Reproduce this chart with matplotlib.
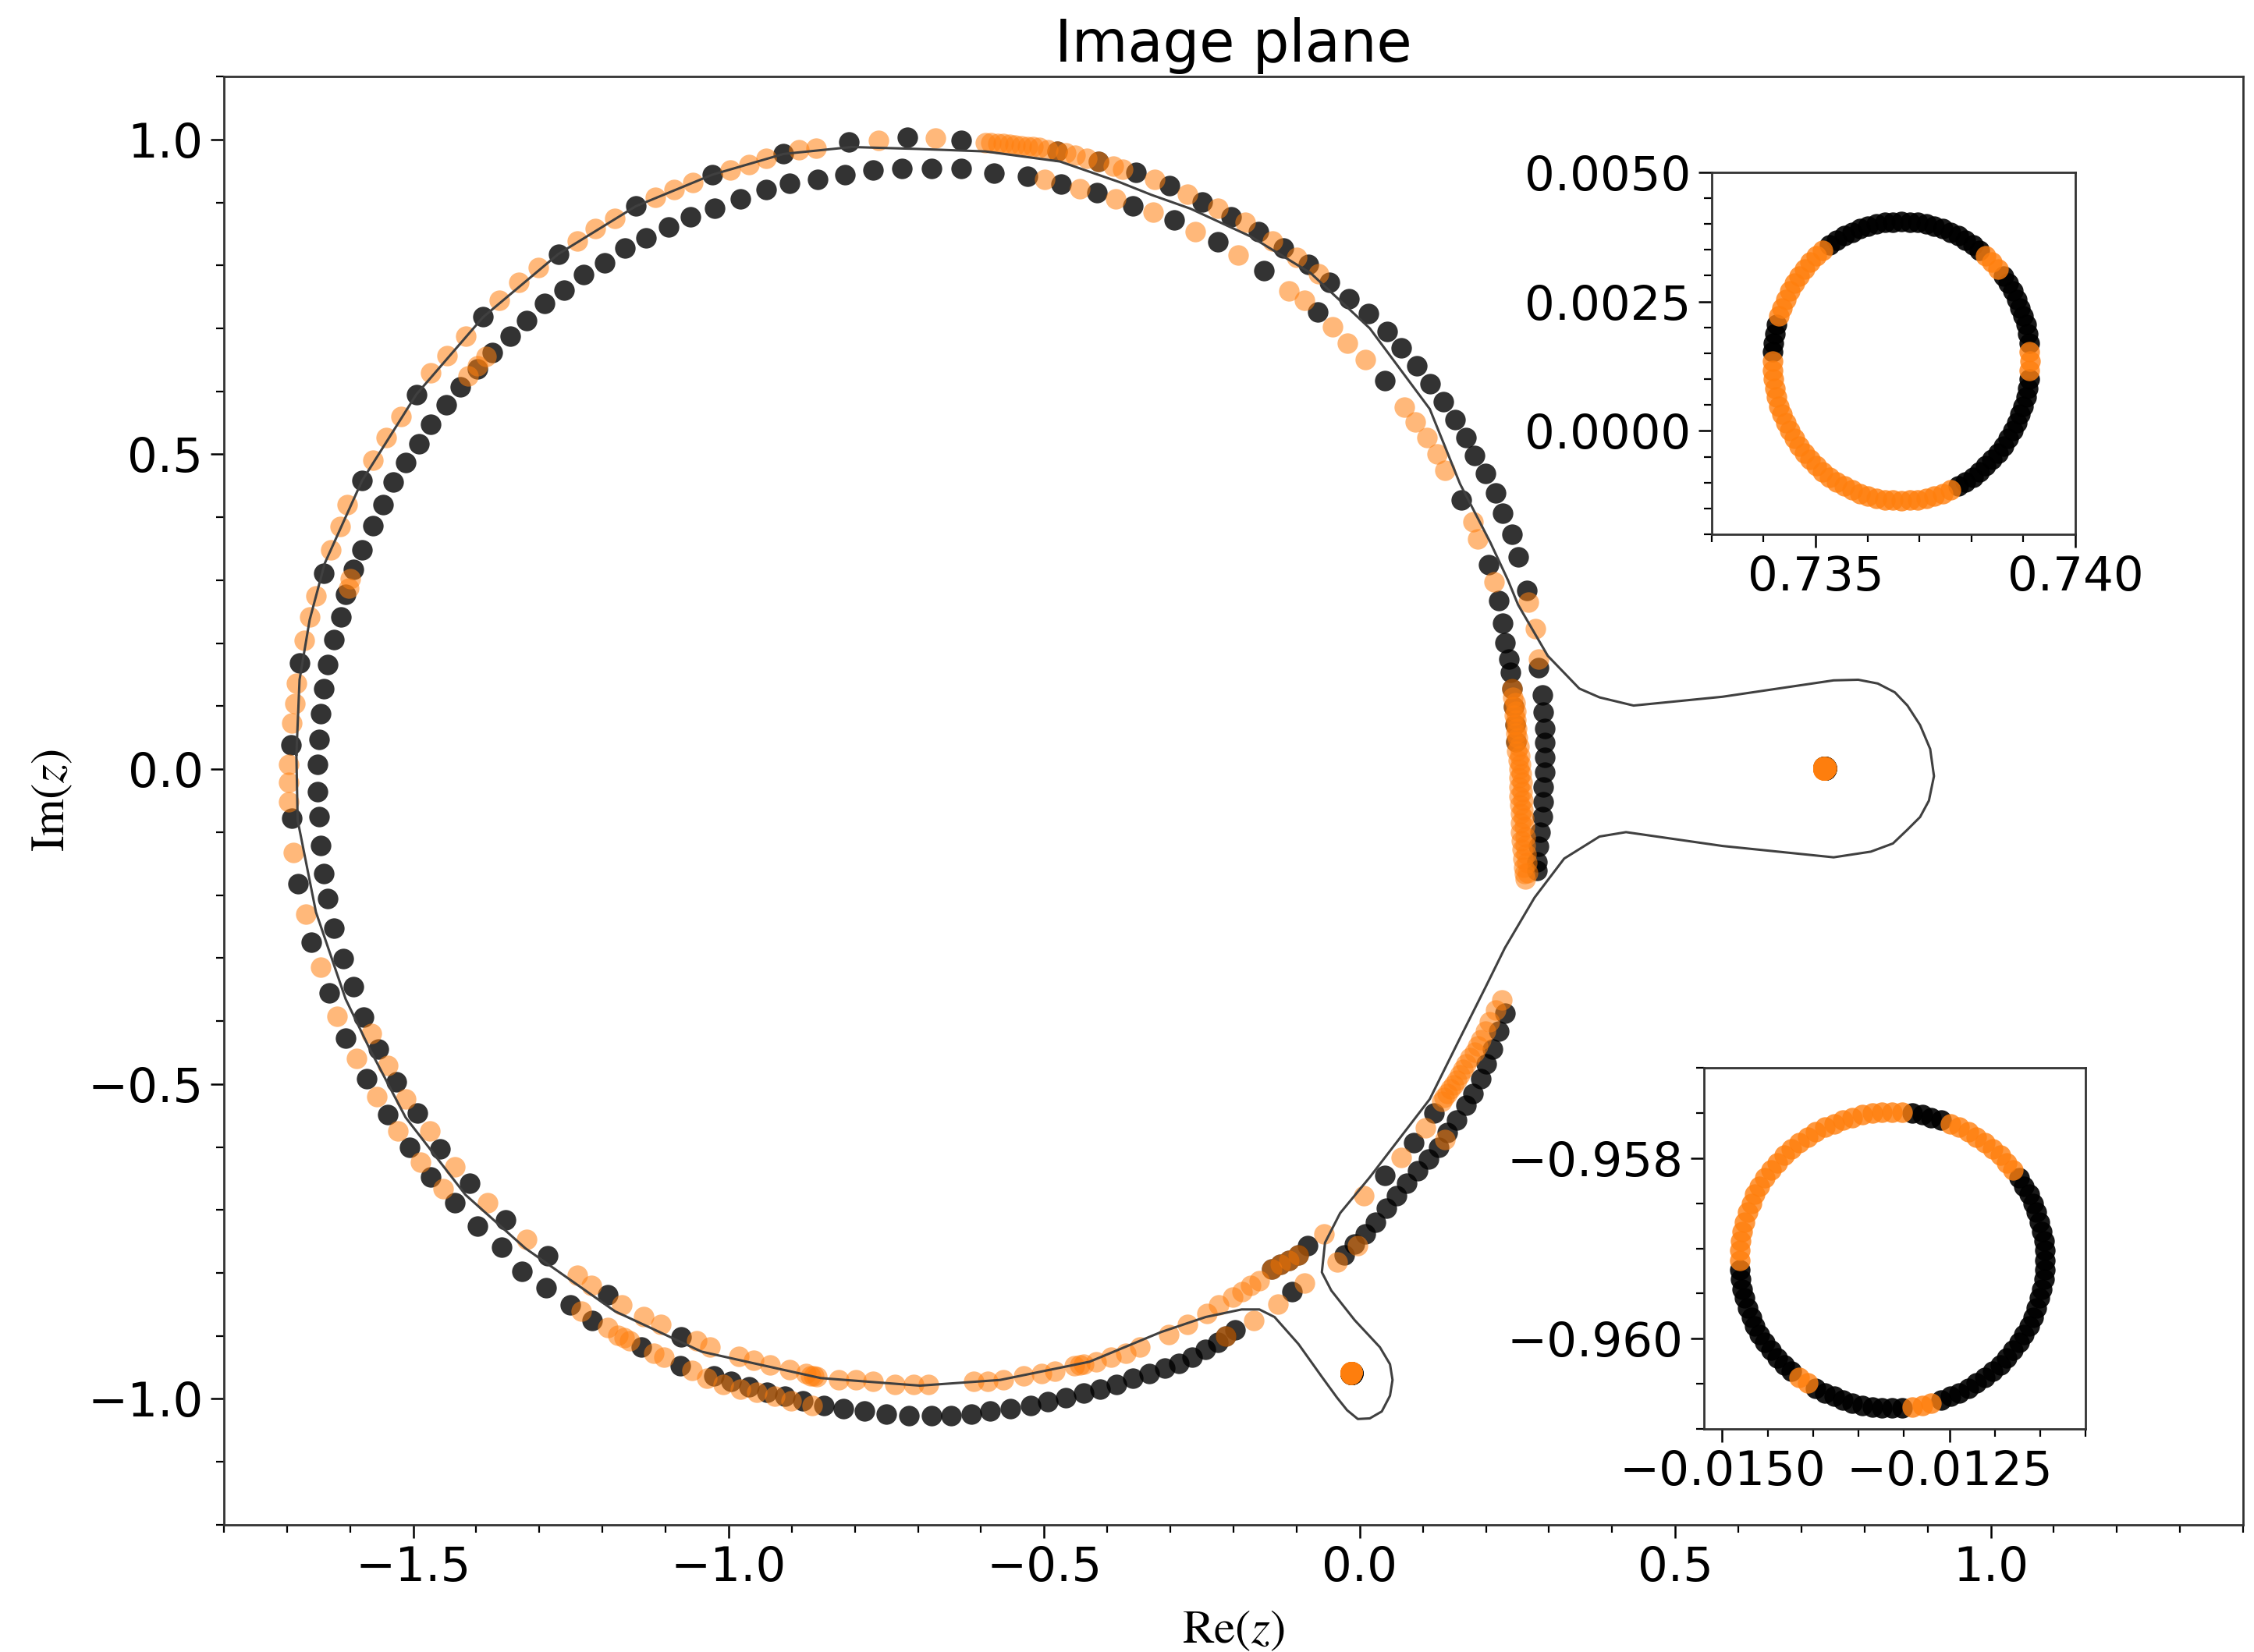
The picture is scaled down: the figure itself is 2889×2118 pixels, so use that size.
import matplotlib
matplotlib.use("Agg")
import matplotlib.pyplot as plt
from matplotlib.ticker import MultipleLocator, FixedLocator, FuncFormatter

plt.rcParams['mathtext.fontset'] = 'stix'

# ---------------- data ----------------
# image points of the first source half (black)
black_x = [-1.680, -1.694, -1.692, -1.682, -1.661, -1.633,
           -1.581, -1.595, -1.607, -1.614, -1.626, -1.635, -1.642, -1.647, -1.649, -1.652,
           -1.652, -1.649, -1.647, -1.642, -1.635, -1.626, -1.611, -1.595,
           -1.641, -1.581, -1.495, -1.389, -1.270, -1.147, -1.026,
           -1.564, -1.548, -1.531, -1.512, -1.491, -1.472, -1.448, -1.425, -1.398, -1.375,
           -1.346, -1.320, -1.292, -1.261, -1.230, -1.197, -1.164, -1.131, -1.095, -1.060, -1.022,
           -0.913, -0.809, -0.717, -0.631, -0.480, -0.414,
           -0.982, -0.941, -0.904, -0.859, -0.816, -0.771, -0.726, -0.678, -0.631, -0.579,
           -0.527, -0.473, -0.416, -0.359,
           -0.355, -0.301, -0.249, -0.204, -0.160, -0.121, -0.081, -0.048, -0.017, 0.014,
           0.043, 0.066, 0.090, 0.111, 0.132, 0.151, 0.168, 0.182, 0.199, 0.215, 0.227, 0.241, 0.251,
           -0.294, -0.225, -0.152, -0.066, 0.040, 0.161, 0.204,
           0.220, 0.227, 0.230, 0.237, 0.239, 0.241, 0.244, 0.246, 0.248,
           0.265, 0.284, 0.289, 0.291, 0.293, 0.293, 0.293, 0.293, 0.291, 0.291, 0.289, 0.286,
           0.284, 0.281, 0.281,
           0.230, 0.220, 0.211, 0.201, 0.192, 0.180, 0.168, 0.154, 0.139, 0.125, 0.109, 0.092,
           0.075, 0.059, 0.042, 0.025, 0.009, -0.008, -0.024,
           0.118, 0.085, 0.040, -0.083, -0.097, -0.112, -0.126, -0.140,
           -0.107, -0.197, -0.212, -0.225, -0.244, -0.266, -0.287,
           -1.024, -0.996, -0.968, -0.939, -0.911, -0.882, -0.849, -0.818, -0.785, -0.750,
           -0.714, -0.679, -0.648, -0.615, -0.586, -0.553, -0.522, -0.494, -0.466, -0.437,
           -0.411, -0.385, -0.359, -0.333, -0.309,
           -1.607, -1.574, -1.540, -1.505, -1.472, -1.434, -1.398, -1.360, -1.327, -1.289, -1.251,
           -1.578, -1.555, -1.526, -1.493, -1.457, -1.410, -1.353, -1.287, -1.192, -1.075,
           -1.216, -1.138, -1.077]
black_y = [0.168, 0.038, -0.078, -0.182, -0.275, -0.355,
           0.348, 0.317, 0.277, 0.242, 0.206, 0.166, 0.128, 0.088, 0.047, 0.007,
           -0.036, -0.076, -0.121, -0.166, -0.206, -0.253, -0.301, -0.345,
           0.311, 0.458, 0.595, 0.718, 0.818, 0.894, 0.944,
           0.387, 0.420, 0.456, 0.487, 0.517, 0.548, 0.579, 0.607, 0.636, 0.662,
           0.688, 0.712, 0.740, 0.761, 0.785, 0.804, 0.827, 0.844, 0.861, 0.877, 0.891,
           0.977, 0.996, 1.003, 0.998, 0.981, 0.965,
           0.906, 0.920, 0.931, 0.937, 0.944, 0.951, 0.954, 0.954, 0.954, 0.947,
           0.941, 0.929, 0.916, 0.895,
           0.948, 0.927, 0.901, 0.877, 0.854, 0.827, 0.801, 0.773, 0.747, 0.723,
           0.695, 0.669, 0.640, 0.612, 0.584, 0.555, 0.527, 0.498, 0.470, 0.439, 0.406, 0.373, 0.337,
           0.872, 0.837, 0.792, 0.726, 0.617, 0.428, 0.325,
           0.268, 0.232, 0.201, 0.175, 0.154, 0.128, 0.099, 0.071, 0.043,
           0.284, 0.161, 0.118, 0.090, 0.065, 0.042, 0.019, -0.005, -0.028, -0.052, -0.076, -0.100,
           -0.123, -0.147, -0.161,
           -0.387, -0.416, -0.444, -0.468, -0.491, -0.515, -0.534, -0.557, -0.577, -0.600, -0.619, -0.638,
           -0.657, -0.678, -0.697, -0.719, -0.738, -0.754, -0.771,
           -0.546, -0.593, -0.645, -0.757, -0.771, -0.780, -0.787, -0.794,
           -0.830, -0.891, -0.900, -0.910, -0.922, -0.934, -0.944,
           -0.963, -0.972, -0.981, -0.989, -0.996, -1.003, -1.010, -1.015, -1.019, -1.024,
           -1.027, -1.027, -1.027, -1.024, -1.019, -1.015, -1.010, -1.005, -0.998, -0.991,
           -0.984, -0.977, -0.967, -0.960, -0.951,
           -0.427, -0.491, -0.548, -0.600, -0.648, -0.688, -0.726, -0.759, -0.797, -0.823, -0.851,
           -0.394, -0.444, -0.496, -0.546, -0.603, -0.657, -0.716, -0.773, -0.835, -0.901,
           -0.875, -0.918, -0.948]

# image points of the second source half (orange)
orange_x = [-1.630, -1.654, -1.664, -1.673, -1.685, -1.687, -1.692, -1.697, -1.697, -1.697,
            -1.690, -1.670, -1.647, -1.600, -1.602,
            -1.616, -1.604, -1.564, -1.543, -1.519, -1.472, -1.446, -1.417, -1.363, -1.332,
            -1.301, -1.240, -1.211, -1.180, -1.116, -1.086, -1.057,
            -1.413, -1.398, -1.384,
            -0.998, -0.968, -0.941, -0.889, -0.861, -0.762, -0.672,
            -0.593, -0.584, -0.574, -0.565, -0.555, -0.546, -0.536, -0.527, -0.518, -0.508,
            -0.494, -0.480, -0.466, -0.451, -0.433, -0.414, -0.390, -0.376,
            -0.499, -0.444, -0.387, -0.327,
            -0.325, -0.273, -0.225, -0.181, -0.138, -0.100, -0.065,
            -0.261, -0.192, -0.112, -0.088, -0.043, -0.019, 0.009, 0.071, 0.088, 0.107, 0.123,
            0.135, 0.180, 0.187, 0.213,
            0.267, 0.279, 0.284,
            0.241, 0.243, 0.244, 0.245, 0.246, 0.247, 0.248, 0.249, 0.251, 0.252, 0.253, 0.253,
            0.253, 0.254, 0.255, 0.255, 0.255, 0.256, 0.258, 0.259, 0.260, 0.261, 0.262,
            0.246, 0.247, 0.248, 0.249, 0.250, 0.252, 0.254, 0.255, 0.256, 0.257,
            0.258, 0.259, 0.259, 0.260, 0.261, 0.262, 0.263, 0.264, 0.265, 0.266,
            0.225, 0.206, 0.192, 0.182, 0.168, 0.158, 0.149, 0.139, 0.130, 0.104, 0.066, 0.007,
            -0.057, -0.097, -0.112, -0.126, -0.140, -0.159, -0.173, -0.187, -0.201, -0.223,
            -0.242, -0.273, -0.303, -0.348, 0.135, -0.003, -0.036, -0.088, -0.130, -0.168, -0.212,
            0.216, 0.199, 0.187, 0.175, 0.163, 0.153, 0.144, 0.134,
            -1.029, -0.984, -0.960, -0.934, -0.904, -0.878, -0.870, -0.865, -0.860, -0.825,
            -0.799, -0.771, -0.736, -0.707, -0.683, -0.612, -0.589, -0.565, -0.532, -0.504,
            -0.483, -0.452, -0.444, -0.438, -0.418, -0.394, -0.371,
            -1.034, -1.008, -0.982, -0.956, -0.927, -0.901, -0.868,
            -1.621, -1.590, -1.557, -1.524, -1.488, -1.453,
            -1.566, -1.540, -1.512, -1.474, -1.434, -1.382, -1.320, -1.240, -1.218, -1.169,
            -1.135, -1.107, -1.051,
            -1.233, -1.192, -1.176, -1.165, -1.157, -1.119, -1.102, -1.058]
orange_y = [0.348, 0.275, 0.242, 0.204, 0.137, 0.104, 0.073, 0.007, -0.021, -0.052,
            -0.133, -0.230, -0.315, 0.303, 0.287,
            0.385, 0.420, 0.491, 0.527, 0.560, 0.629, 0.657, 0.688, 0.745, 0.773,
            0.797, 0.839, 0.858, 0.875, 0.908, 0.920, 0.932,
            0.624, 0.640, 0.655,
            0.951, 0.960, 0.970, 0.984, 0.986, 0.998, 1.002,
            0.995, 0.995, 0.994, 0.993, 0.992, 0.991, 0.990, 0.989, 0.988, 0.987,
            0.984, 0.981, 0.979, 0.975, 0.970, 0.965, 0.958, 0.953,
            0.936, 0.922, 0.906, 0.884,
            0.936, 0.913, 0.891, 0.868, 0.839, 0.813, 0.787,
            0.854, 0.816, 0.759, 0.745, 0.702, 0.676, 0.650, 0.575, 0.551, 0.527, 0.501,
            0.475, 0.393, 0.366, 0.297,
            0.265, 0.223, 0.175,
            0.128, 0.114, 0.099, 0.085, 0.071, 0.057, 0.043, 0.029, 0.014, 0.000, -0.014, -0.028,
            -0.043, -0.057, -0.071, -0.085, -0.100, -0.114, -0.128, -0.142, -0.156, -0.166, -0.175,
            0.106, 0.092, 0.078, 0.064, 0.050, 0.036, 0.021, 0.007, -0.007, -0.021,
            -0.036, -0.050, -0.064, -0.078, -0.092, -0.107, -0.121, -0.135, -0.149, -0.165,
            -0.366, -0.401, -0.430, -0.449, -0.468, -0.486, -0.501, -0.515, -0.527, -0.570, -0.617, -0.678,
            -0.738, -0.771, -0.780, -0.787, -0.794, -0.813, -0.820, -0.830, -0.839, -0.851,
            -0.865, -0.882, -0.898, -0.918, -0.588, -0.757, -0.783, -0.816, -0.849, -0.875, -0.900,
            -0.383, -0.416, -0.440, -0.458, -0.477, -0.494, -0.508, -0.521,
            -0.918, -0.932, -0.939, -0.946, -0.953, -0.960, -0.963, -0.964, -0.965, -0.970,
            -0.970, -0.972, -0.977, -0.977, -0.977, -0.972, -0.972, -0.970, -0.963, -0.960,
            -0.956, -0.948, -0.946, -0.945, -0.941, -0.934, -0.927,
            -0.967, -0.977, -0.984, -0.989, -0.996, -1.003, -1.010,
            -0.392, -0.460, -0.520, -0.574, -0.624, -0.666,
            -0.420, -0.470, -0.524, -0.574, -0.631, -0.688, -0.747, -0.804, -0.820, -0.851,
            -0.870, -0.882, -0.908,
            -0.861, -0.887, -0.899, -0.903, -0.908, -0.927, -0.934, -0.955]

# small image ring near the lens at (0.74, 0); 'k' black, 'o' orange
ring1_x = [0.73913, 0.73911, 0.73905, 0.73894, 0.73880, 0.73862, 0.73840, 0.73816, 0.73789, 0.73760,
           0.73729, 0.73697, 0.73665, 0.73633, 0.73601, 0.73570, 0.73541, 0.73514, 0.73490, 0.73468,
           0.73450, 0.73436, 0.73425, 0.73419, 0.73417, 0.73419, 0.73425, 0.73436, 0.73450, 0.73468,
           0.73490, 0.73514, 0.73541, 0.73570, 0.73601, 0.73633, 0.73665, 0.73697, 0.73729, 0.73760,
           0.73789, 0.73816, 0.73840, 0.73862, 0.73880, 0.73894, 0.73905, 0.73911,
           0.73912, 0.73908, 0.73900, 0.73887, 0.73871, 0.73851, 0.73828, 0.73803, 0.73775, 0.73745,
           0.73713, 0.73681, 0.73649, 0.73617, 0.73585, 0.73555, 0.73527, 0.73502, 0.73479, 0.73459,
           0.73443, 0.73430, 0.73422, 0.73418, 0.73418, 0.73422, 0.73430, 0.73443, 0.73459, 0.73479,
           0.73502, 0.73527, 0.73555, 0.73585, 0.73617, 0.73649, 0.73681, 0.73713, 0.73745, 0.73775,
           0.73803, 0.73828, 0.73851, 0.73871, 0.73887, 0.73900, 0.73908, 0.73912]
ring1_y = [0.00135, 0.00170, 0.00205, 0.00238, 0.00270, 0.00299, 0.00326, 0.00349, 0.00369, 0.00384,
           0.00396, 0.00403, 0.00405, 0.00403, 0.00396, 0.00384, 0.00369, 0.00349, 0.00326, 0.00299,
           0.00270, 0.00238, 0.00205, 0.00170, 0.00135, 0.00100, 0.00065, 0.00032, 0.00000, -0.00029,
           -0.00056, -0.00079, -0.00099, -0.00114, -0.00126, -0.00133, -0.00135, -0.00133, -0.00126, -0.00114,
           -0.00099, -0.00079, -0.00056, -0.00029, 0.00000, 0.00032, 0.00065, 0.00100,
           0.00153, 0.00188, 0.00222, 0.00254, 0.00285, 0.00313, 0.00338, 0.00360, 0.00377, 0.00391,
           0.00400, 0.00404, 0.00404, 0.00400, 0.00391, 0.00377, 0.00360, 0.00338, 0.00313, 0.00285,
           0.00254, 0.00222, 0.00188, 0.00153, 0.00117, 0.00082, 0.00048, 0.00016, -0.00015, -0.00043,
           -0.00068, -0.00090, -0.00107, -0.00121, -0.00130, -0.00134, -0.00134, -0.00130, -0.00121, -0.00107,
           -0.00090, -0.00068, -0.00043, -0.00015, 0.00016, 0.00048, 0.00082, 0.00117]
ring1_c = ("o" "kkkkk" "o" "kkkkkkkkkk" "ooooo" "kk" "oooooooooooooooo" "kkkkkkkk"
           "o" "kkkk" "oo" "kkkkkkkkkk" "ooooo" "kk" "ooooooooooooooo" "kkkkkkkk" "o")

# small image ring near the lens at (-0.013, -0.959)
ring2_x = [-0.01145, -0.01146, -0.01151, -0.01158, -0.01168, -0.01180, -0.01194, -0.01211, -0.01229, -0.01249,
           -0.01270, -0.01291, -0.01313, -0.01335, -0.01357, -0.01377, -0.01397, -0.01415, -0.01432, -0.01446,
           -0.01459, -0.01468, -0.01475, -0.01480, -0.01481, -0.01480, -0.01475, -0.01468, -0.01459, -0.01446,
           -0.01432, -0.01415, -0.01397, -0.01377, -0.01357, -0.01335, -0.01313, -0.01291, -0.01270, -0.01249,
           -0.01229, -0.01211, -0.01194, -0.01180, -0.01168, -0.01158, -0.01151, -0.01146,
           -0.01145, -0.01148, -0.01154, -0.01162, -0.01173, -0.01187, -0.01202, -0.01220, -0.01239, -0.01259,
           -0.01280, -0.01302, -0.01324, -0.01346, -0.01367, -0.01387, -0.01406, -0.01424, -0.01439, -0.01453,
           -0.01464, -0.01472, -0.01478, -0.01481, -0.01481, -0.01478, -0.01472, -0.01464, -0.01453, -0.01439,
           -0.01424, -0.01406, -0.01387, -0.01367, -0.01346, -0.01324, -0.01302, -0.01280, -0.01259, -0.01239,
           -0.01220, -0.01202, -0.01187, -0.01173, -0.01162, -0.01154, -0.01148, -0.01145]
ring2_y = [-0.95913, -0.95892, -0.95871, -0.95850, -0.95831, -0.95813, -0.95797, -0.95783, -0.95771, -0.95762,
           -0.95755, -0.95750, -0.95749, -0.95750, -0.95755, -0.95762, -0.95771, -0.95783, -0.95797, -0.95813,
           -0.95831, -0.95850, -0.95871, -0.95892, -0.95913, -0.95934, -0.95955, -0.95976, -0.95995, -0.96013,
           -0.96029, -0.96043, -0.96055, -0.96064, -0.96071, -0.96076, -0.96077, -0.96076, -0.96071, -0.96064,
           -0.96055, -0.96043, -0.96029, -0.96013, -0.95995, -0.95976, -0.95955, -0.95934,
           -0.95902, -0.95881, -0.95860, -0.95840, -0.95822, -0.95805, -0.95790, -0.95777, -0.95766, -0.95758,
           -0.95752, -0.95749, -0.95749, -0.95752, -0.95758, -0.95766, -0.95777, -0.95790, -0.95805, -0.95822,
           -0.95840, -0.95860, -0.95881, -0.95902, -0.95924, -0.95945, -0.95966, -0.95986, -0.96004, -0.96021,
           -0.96036, -0.96049, -0.96060, -0.96068, -0.96074, -0.96077, -0.96077, -0.96074, -0.96068, -0.96060,
           -0.96049, -0.96036, -0.96021, -0.96004, -0.95986, -0.95966, -0.95945, -0.95924]
ring2_c = ("kkkkk" "ooooo" "kk" "ooooooooooooo" "kkkkkk" "o" "kkkkk" "oo" "kkkkkkkkk"
           "kkkkk" "oooo" "kk" "ooooooooooooo" "kkkkkkk" "o" "kkkkk" "o" "kkkkkkkkkk")

# critical curve
crit_x = [-1.685, -1.680, -1.664, -1.640, -1.581, -1.495, -1.389, -1.270, -1.147, -1.026,
          -0.913, -0.805, -0.702, -0.593, -0.475, -0.380, -0.330, -0.268, -0.173, -0.078,
          0.016, 0.111, 0.159, 0.207, 0.235, 0.251, 0.298, 0.348, 0.380, 0.434,
          0.575, 0.751, 0.790, 0.821, 0.848, 0.868, 0.888, 0.904, 0.910, 0.902, 0.888,
          0.868, 0.845, 0.810, 0.751, 0.575,
          0.422, 0.380, 0.324, 0.277, 0.230, 0.200, 0.160, 0.111, 0.016, -0.031,
          -0.055, -0.060, -0.045, -0.008, 0.032, 0.048, 0.052, 0.048, 0.035, 0.016, -0.003,
          -0.020, -0.036,
          -0.060, -0.097, -0.135, -0.159, -0.187, -0.244, -0.315, -0.428, -0.570, -0.697,
          -0.854, -0.949, -1.043, -1.180, -1.322, -1.417, -1.512, -1.569, -1.607, -1.654,
          -1.683, -1.685]
crit_y = [0.023, 0.142, 0.237, 0.327, 0.458, 0.595, 0.718, 0.818, 0.894, 0.944,
          0.977, 0.988, 0.985, 0.981, 0.965, 0.932, 0.912, 0.890, 0.846, 0.788,
          0.700, 0.572, 0.453, 0.360, 0.300, 0.261, 0.180, 0.128, 0.114, 0.101,
          0.115, 0.141, 0.142, 0.136, 0.122, 0.101, 0.070, 0.032, -0.011, -0.050, -0.076,
          -0.096, -0.118, -0.131, -0.140, -0.122,
          -0.100, -0.107, -0.142, -0.204, -0.284, -0.345, -0.425, -0.524, -0.648, -0.705,
          -0.752, -0.799, -0.828, -0.875, -0.918, -0.945, -0.970, -0.995, -1.020, -1.031, -1.032,
          -1.018, -0.998,
          -0.965, -0.913, -0.870, -0.858, -0.858, -0.870, -0.894, -0.941, -0.970, -0.979,
          -0.967, -0.946, -0.925, -0.861, -0.761, -0.676, -0.553, -0.444, -0.365, -0.227,
          -0.081, 0.023]

BLACK = (0, 0, 0, 0.8)
ORANGE = (1.0, 0.498, 0.055, 0.55)
RING_BLACK = (0, 0, 0, 0.9)
RING_ORANGE = (1.0, 0.498, 0.055, 0.8)
MS = 90
TICK_FS = 22


def uminus(fmt):
    return FuncFormatter(lambda v, p: (fmt % v).replace('-', '\u2212'))


def draw_rings(ax, kcol, ocol):
    for xs, ys, cs in ((ring1_x, ring1_y, ring1_c), (ring2_x, ring2_y, ring2_c)):
        kx = [x for x, c in zip(xs, cs) if c == 'k']
        ky = [y for y, c in zip(ys, cs) if c == 'k']
        ox = [x for x, c in zip(xs, cs) if c == 'o']
        oy = [y for y, c in zip(ys, cs) if c == 'o']
        ax.scatter(kx, ky, s=MS, color=kcol, linewidths=0, zorder=2)
        ax.scatter(ox, oy, s=MS, color=ocol, linewidths=0, zorder=3)


def style(ax):
    ax.tick_params(which='major', direction='out', length=6, width=0.9, labelsize=TICK_FS)
    ax.tick_params(which='minor', direction='out', length=3.5, width=0.8)
    for sp in ax.spines.values():
        sp.set_linewidth(1.0)
        sp.set_color('0.2')


fig = plt.figure(figsize=(14.445, 10.59), dpi=200)
ax = fig.add_axes([0.0993, 0.0770, 0.8959, 0.8767])

ax.scatter(black_x, black_y, s=MS, color=BLACK, linewidths=0, zorder=2)
ax.scatter(orange_x, orange_y, s=MS, color=ORANGE, linewidths=0, zorder=3)
draw_rings(ax, BLACK, ORANGE)
ax.plot(crit_x, crit_y, color='0.25', lw=1.1, zorder=4)

ax.set_xlim(-1.8, 1.4)
ax.set_ylim(-1.2, 1.1)
ax.xaxis.set_major_locator(MultipleLocator(0.5))
ax.xaxis.set_minor_locator(MultipleLocator(0.1))
ax.yaxis.set_major_locator(MultipleLocator(0.5))
ax.yaxis.set_minor_locator(MultipleLocator(0.1))
style(ax)
ax.set_title('Image plane', fontsize=26.5, pad=7)
ax.set_xlabel(r'$\mathrm{Re}(z)$', fontsize=22, labelpad=7)
ax.set_ylabel(r'$\mathrm{Im}(z)$', fontsize=22, labelpad=6)

# inset around the lens at (0.74, 0)
ins1 = fig.add_axes([0.7594, 0.6766, 0.1613, 0.2191])
draw_rings(ins1, RING_BLACK, RING_ORANGE)
ins1.set_xlim(0.733, 0.740)
ins1.set_ylim(-0.002, 0.005)
ins1.xaxis.set_major_locator(FixedLocator([0.735, 0.740]))
ins1.xaxis.set_minor_locator(MultipleLocator(0.001))
ins1.xaxis.set_major_formatter(uminus('%.3f'))
ins1.yaxis.set_major_locator(FixedLocator([0.0, 0.0025, 0.005]))
ins1.yaxis.set_minor_locator(MultipleLocator(0.0005))
ins1.yaxis.set_major_formatter(uminus('%.4f'))
style(ins1)

# inset around the lens at (-0.013, -0.959)
ins2 = fig.add_axes([0.7560, 0.1350, 0.1693, 0.2186])
draw_rings(ins2, RING_BLACK, RING_ORANGE)
ins2.set_xlim(-0.0152, -0.0110)
ins2.set_ylim(-0.961, -0.957)
ins2.xaxis.set_major_locator(FixedLocator([-0.015, -0.0125]))
ins2.xaxis.set_minor_locator(MultipleLocator(0.0005))
ins2.xaxis.set_major_formatter(uminus('%.4f'))
ins2.yaxis.set_major_locator(FixedLocator([-0.960, -0.958]))
ins2.yaxis.set_minor_locator(MultipleLocator(0.0005))
ins2.yaxis.set_major_formatter(uminus('%.3f'))
style(ins2)

fig.savefig('out.png', dpi=200)
